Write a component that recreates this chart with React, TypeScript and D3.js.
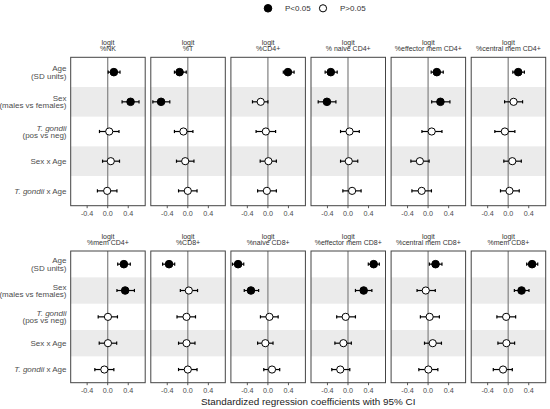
import * as d3 from 'd3';

const FONT = '"Liberation Sans", Arial, sans-serif';

const responses = [
    '%NK', '%T', '%CD4+', '% naive CD4+', '%effector mem CD4+', '%central mem CD4+',
    '%mem CD4+', '%CD8+', '%naive CD8+', '%effector mem CD8+', '%central mem CD8+', '%mem CD8+',
];
const terms = ['age', 'sex', 'tg', 'sexAge', 'tgAge'];
const xTicks = [-0.4, 0, 0.4];

// rows: Age, Sex, T. gondii, Sex x Age, T. gondii x Age
const estimates = [
    [0.12, 0.445, 0.03, 0.06, -0.01],
    [-0.16, -0.52, -0.085, -0.05, 0.0],
    [0.39, -0.14, -0.04, 0.01, -0.02],
    [-0.335, -0.41, 0.03, 0.015, 0.08],
    [0.17, 0.24, 0.07, -0.16, -0.125],
    [0.195, 0.105, -0.065, 0.08, 0.025],
    [0.315, 0.34, 0.005, 0.005, -0.065],
    [-0.365, 0.02, -0.025, -0.025, 0.0],
    [-0.58, -0.33, 0.03, -0.05, 0.08],
    [0.5, 0.305, -0.045, -0.09, -0.15],
    [0.145, -0.045, 0.03, 0.09, 0.005],
    [0.465, 0.26, -0.04, -0.035, -0.1],
];
const lower = [
    [0.01, 0.28, -0.16, -0.1, -0.2],
    [-0.26, -0.68, -0.26, -0.22, -0.18],
    [0.3, -0.3, -0.23, -0.15, -0.2],
    [-0.445, -0.58, -0.145, -0.145, -0.1],
    [0.06, 0.07, -0.12, -0.335, -0.315],
    [0.09, -0.07, -0.26, -0.085, -0.15],
    [0.195, 0.18, -0.185, -0.165, -0.25],
    [-0.49, -0.145, -0.21, -0.18, -0.18],
    [-0.69, -0.46, -0.145, -0.2, -0.08],
    [0.395, 0.145, -0.22, -0.255, -0.315],
    [0.025, -0.215, -0.15, -0.07, -0.18],
    [0.36, 0.12, -0.22, -0.2, -0.29],
];
const upper = [
    [0.24, 0.61, 0.22, 0.23, 0.18],
    [-0.03, -0.35, 0.1, 0.12, 0.18],
    [0.51, 0.0, 0.15, 0.165, 0.165],
    [-0.21, -0.235, 0.22, 0.19, 0.255],
    [0.295, 0.425, 0.27, 0.02, 0.065],
    [0.315, 0.28, 0.13, 0.255, 0.215],
    [0.44, 0.52, 0.19, 0.175, 0.12],
    [-0.255, 0.19, 0.15, 0.14, 0.18],
    [-0.47, -0.18, 0.2, 0.1, 0.23],
    [0.61, 0.465, 0.145, 0.065, 0.035],
    [0.27, 0.14, 0.22, 0.26, 0.19],
    [0.575, 0.405, 0.145, 0.125, 0.08],
];
// 1 = P<0.05
const significant = [
    [1, 1, 0, 0, 0],
    [1, 1, 0, 0, 0],
    [1, 0, 0, 0, 0],
    [1, 1, 0, 0, 0],
    [1, 1, 0, 0, 0],
    [1, 0, 0, 0, 0],
    [1, 1, 0, 0, 0],
    [1, 0, 0, 0, 0],
    [1, 1, 0, 0, 0],
    [1, 1, 0, 0, 0],
    [1, 0, 0, 0, 0],
    [1, 1, 0, 0, 0],
];

const PANEL_W = 74.5;
const PANEL_STEP = 80.1;
const LEFT = 70.7;
const ROWS = [
    { top: 57.3, bottom: 205.7 },
    { top: 251, bottom: 382.7 },
];

function TermLabel({ term, y }: { term: string; y: number }) {
    const x = 66.5;
    const common = { x, textAnchor: 'end' as const, fontSize: 8, fill: '#4d4d4d', fontFamily: FONT };
    if (term === 'age')
        return (
            <text {...common} y={y}>
                <tspan x={x} dy={-1}>Age</tspan>
                <tspan x={x} dy={7.6}>(SD units)</tspan>
            </text>
        );
    if (term === 'sex')
        return (
            <text {...common} y={y}>
                <tspan x={x} dy={-1}>Sex</tspan>
                <tspan x={x} dy={7.6}>(males vs females)</tspan>
            </text>
        );
    if (term === 'tg')
        return (
            <text {...common} y={y}>
                <tspan x={x} dy={-1} fontStyle="italic">T. gondii</tspan>
                <tspan x={x} dy={7.6}>(pos vs neg)</tspan>
            </text>
        );
    if (term === 'sexAge')
        return (
            <text {...common} y={y + 2.8}>
                Sex x Age
            </text>
        );
    return (
        <text {...common} y={y + 2.8}>
            <tspan fontStyle="italic">T. gondii</tspan> x Age
        </text>
    );
}

function Panel({ idx }: { idx: number }) {
    const row = ROWS[Math.floor(idx / 6)];
    const col = idx % 6;
    const x0 = LEFT + col * PANEL_STEP;
    const xScale = d3.scaleLinear().domain([-0.72, 0.73]).range([x0, x0 + PANEL_W]);
    const yScale = d3.scaleBand().domain(terms).range([row.top, row.bottom]);
    const bw = yScale.bandwidth();
    return (
        <g>
            <text x={x0 + PANEL_W / 2} y={row.top - 12.5} textAnchor="middle" fontSize={7} fill="#333" fontFamily={FONT}>
                logit
            </text>
            <text x={x0 + PANEL_W / 2} y={row.top - 6} textAnchor="middle" fontSize={7} fill="#333" fontFamily={FONT}>
                {responses[idx]}
            </text>
            <rect x={x0} y={row.top} width={PANEL_W} height={row.bottom - row.top} fill="#fff" />
            {terms.map((t, i) =>
                i % 2 === 1 ? (
                    <rect key={t} x={x0} y={yScale(t)} width={PANEL_W} height={bw} fill="#ebebeb" />
                ) : null,
            )}
            <line x1={xScale(0)} x2={xScale(0)} y1={row.top} y2={row.bottom} stroke="#8a8a8a" strokeWidth={1.3} />
            {terms.map((t, i) => {
                const cy = (yScale(t) ?? 0) + bw / 2;
                const lo = xScale(lower[idx][i]);
                const hi = xScale(upper[idx][i]);
                const sig = significant[idx][i] === 1;
                return (
                    <g key={t}>
                        <line x1={lo} x2={hi} y1={cy} y2={cy} stroke="#000" strokeWidth={1.2} />
                        <line x1={lo} x2={lo} y1={cy - 1.6} y2={cy + 1.6} stroke="#000" strokeWidth={1.2} />
                        <line x1={hi} x2={hi} y1={cy - 1.6} y2={cy + 1.6} stroke="#000" strokeWidth={1.2} />
                        <circle
                            cx={xScale(estimates[idx][i])}
                            cy={cy}
                            r={sig ? 3.8 : 3.6}
                            fill={sig ? '#000' : '#fff'}
                            stroke="#000"
                            strokeWidth={1}
                        />
                    </g>
                );
            })}
            <rect x={x0} y={row.top} width={PANEL_W} height={row.bottom - row.top} fill="none" stroke="#444" strokeWidth={1} />
            {xTicks.map((v) => (
                <g key={v}>
                    <line x1={xScale(v)} x2={xScale(v)} y1={row.bottom} y2={row.bottom + 2.5} stroke="#444" strokeWidth={0.9} />
                    <text x={xScale(v)} y={row.bottom + 9.8} textAnchor="middle" fontSize={7.2} fill="#4d4d4d" fontFamily={FONT}>
                        {d3.format('.1f')(v).replace('\u2212', '-')}
                    </text>
                </g>
            ))}
        </g>
    );
}

export default function App() {
    const width = 550,
        height = 409;
    return (
        <svg width={width} height={height} style={{ position: 'absolute', left: 0, top: 0 }}>
            <rect width={width} height={height} fill="#fff" />
            {/* legend */}
            <circle cx={268} cy={8.3} r={3.8} fill="#000" stroke="#000" />
            <text x={285} y={11.1} fontSize={8} fill="#333" fontFamily={FONT}>
                P&lt;0.05
            </text>
            <circle cx={323} cy={8.3} r={3.6} fill="#fff" stroke="#000" strokeWidth={1} />
            <text x={340} y={11.1} fontSize={8} fill="#333" fontFamily={FONT}>
                P&gt;0.05
            </text>
            {ROWS.map((row, r) =>
                terms.map((t, i) => {
                    const y = row.top + ((row.bottom - row.top) / terms.length) * (i + 0.5);
                    return <TermLabel key={`${r}-${t}`} term={t} y={y} />;
                }),
            )}
            {responses.map((_, idx) => (
                <Panel key={idx} idx={idx} />
            ))}
            <text x={308.2} y={405.2} textAnchor="middle" fontSize={9.9} fill="#222" fontFamily={FONT}>
                Standardized regression coefficients with 95% CI
            </text>
        </svg>
    );
}
